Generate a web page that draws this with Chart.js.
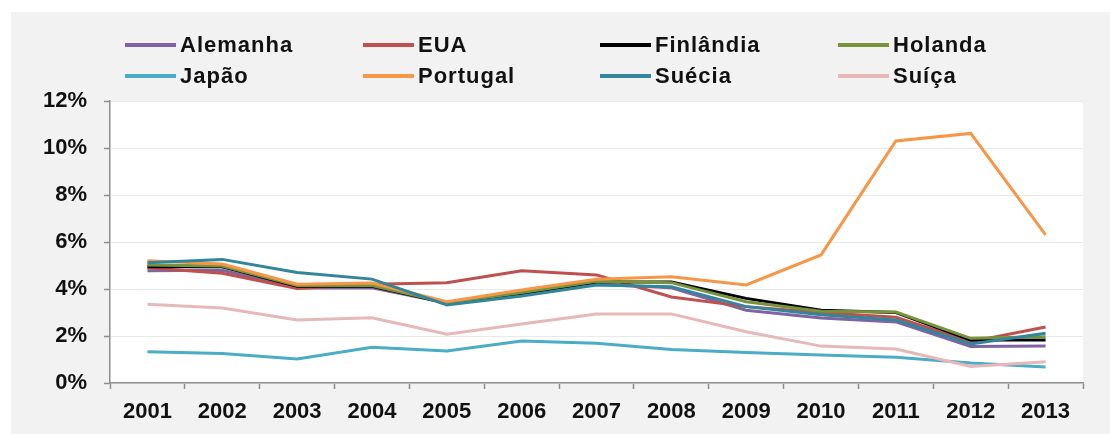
<!DOCTYPE html>
<html>
<head>
<meta charset="utf-8">
<script src="https://cdn.jsdelivr.net/npm/chart.js@4.4.1/dist/chart.umd.min.js"></script>
<style>
  html, body { margin: 0; padding: 0; background: #ffffff; }
  canvas { display: block; }
</style>
</head>
<body>
<canvas id="chart" width="1110" height="434"></canvas>
<script>
// Data (percent)
const years = ['2001', '2002', '2003', '2004', '2005', '2006', '2007', '2008', '2009', '2010', '2011', '2012', '2013'];
const yTicks = [0, 2, 4, 6, 8, 10, 12];

const alemanha = [4.78, 4.80, 4.04, 4.05, 3.40, 3.75, 4.20, 4.05, 3.10, 2.77, 2.60, 1.55, 1.57];
const eua = [4.90, 4.67, 4.02, 4.20, 4.27, 4.78, 4.60, 3.66, 3.25, 3.00, 2.80, 1.76, 2.38];
const finlandia = [4.95, 4.95, 4.12, 4.12, 3.40, 3.80, 4.30, 4.30, 3.60, 3.10, 3.00, 1.83, 1.83];
const holanda = [5.02, 4.98, 4.15, 4.15, 3.42, 3.85, 4.33, 4.27, 3.46, 3.05, 3.02, 1.90, 1.97];
const japao = [1.33, 1.26, 1.02, 1.52, 1.36, 1.79, 1.69, 1.43, 1.30, 1.19, 1.10, 0.85, 0.68];
const portugal = [5.20, 5.06, 4.20, 4.25, 3.46, 3.96, 4.41, 4.52, 4.17, 5.45, 10.30, 10.62, 6.30];
const suecia = [5.12, 5.26, 4.70, 4.42, 3.32, 3.70, 4.17, 4.10, 3.25, 2.90, 2.68, 1.66, 2.12];
const suica = [3.35, 3.19, 2.68, 2.78, 2.08, 2.51, 2.94, 2.94, 2.18, 1.57, 1.45, 0.70, 0.90];

const series = [
  { label: 'Alemanha', data: alemanha, color: '#8064A2' },
  { label: 'EUA', data: eua, color: '#C0504D' },
  { label: 'Finlândia', data: finlandia, color: '#000000' },
  { label: 'Holanda', data: holanda, color: '#77933C' },
  { label: 'Japão', data: japao, color: '#4BACC6' },
  { label: 'Portugal', data: portugal, color: '#F79646' },
  { label: 'Suécia', data: suecia, color: '#31859C' },
  { label: 'Suíça', data: suica, color: '#E6B9B8' }
];

const FONT = '"Liberation Sans", Arial, sans-serif';
const AXIS = '#8e8e8e';

// gray panel + white plot area
const backgroundPlugin = {
  id: 'panel',
  beforeDraw(chart) {
    const { ctx, chartArea } = chart;
    ctx.save();
    ctx.fillStyle = '#f2f2f2';
    ctx.fillRect(11, 12, chart.width - 11, chart.height - 12);
    ctx.fillStyle = '#ffffff';
    ctx.fillRect(chartArea.left, chartArea.top, chartArea.right - chartArea.left, chartArea.bottom - chartArea.top);
    ctx.restore();
  }
};

// legend in a 4 x 2 grid
const gridLegend = {
  id: 'gridLegend',
  afterDraw(chart) {
    const ctx = chart.ctx;
    const cols = [125, 363, 600, 838];
    const rows = [45, 76];
    ctx.save();
    ctx.font = 'bold 22px ' + FONT;
    ctx.letterSpacing = '1px';
    ctx.textBaseline = 'middle';
    ctx.textAlign = 'left';
    chart.data.datasets.forEach((ds, i) => {
      const x = cols[i % 4];
      const y = rows[Math.floor(i / 4)];
      ctx.strokeStyle = ds.borderColor;
      ctx.lineWidth = 4;
      ctx.beginPath();
      ctx.moveTo(x, y);
      ctx.lineTo(x + 51, y);
      ctx.stroke();
      ctx.fillStyle = '#111111';
      ctx.fillText(ds.label, x + 55, y + 1);
    });
    ctx.restore();
  }
};

new Chart(document.getElementById('chart'), {
  type: 'line',
  data: {
    labels: years,
    datasets: series.map((s, i) => ({
      label: s.label,
      data: s.data,
      borderColor: s.color,
      backgroundColor: s.color,
      borderWidth: 3,
      pointRadius: 0,
      tension: 0,
      order: series.length - i
    }))
  },
  options: {
    responsive: false,
    animation: false,
    layout: { padding: { top: 101, right: 27, left: 11, bottom: 0 } },
    plugins: {
      legend: { display: false },
      tooltip: { enabled: false }
    },
    scales: {
      x: {
        offset: true,
        afterFit(scale) { scale.height = 51; },
        grid: {
          offset: true,
          drawOnChartArea: false,
          drawTicks: true,
          tickLength: 6,
          tickColor: AXIS,
          tickWidth: 1.5
        },
        border: { color: AXIS, width: 1.5 },
        ticks: {
          color: '#111111',
          font: { family: FONT, size: 22, weight: 'bold' },
          padding: 10,
          maxRotation: 0,
          autoSkip: false
        }
      },
      y: {
        min: 0,
        max: 12,
        afterFit(scale) { scale.width = 99; },
        afterBuildTicks(scale) { scale.ticks = yTicks.map(v => ({ value: v })); },
        grid: {
          color: '#e9e9e9',
          lineWidth: 1,
          drawTicks: true,
          tickLength: 6,
          tickColor: AXIS,
          tickWidth: 1.5
        },
        border: { color: AXIS, width: 1.5 },
        ticks: {
          color: '#111111',
          font: { family: FONT, size: 22, weight: 'bold' },
          padding: 17,
          callback: v => v + '%'
        }
      }
    }
  },
  plugins: [backgroundPlugin, gridLegend]
});
</script>
</body>
</html>
